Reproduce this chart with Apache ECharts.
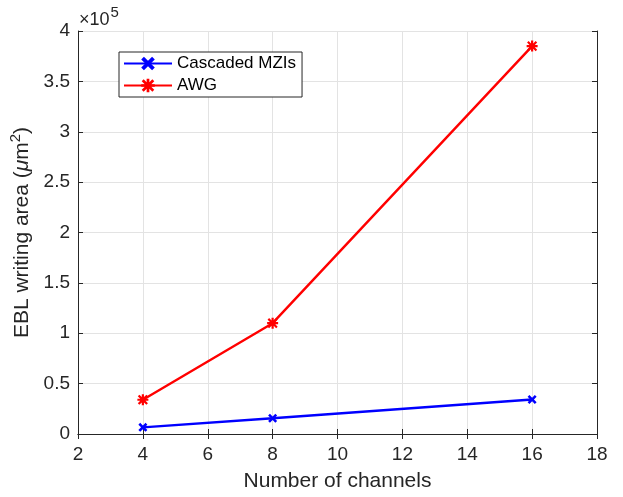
<!DOCTYPE html>
<html>
<head>
<meta charset="utf-8">
<script src="https://cdn.jsdelivr.net/npm/echarts@6/dist/echarts.min.js"></script>
<style>
  html, body { margin: 0; padding: 0; background: #fff; }
  #chart { width: 623px; height: 497px; }
</style>
</head>
<body>
<div id="chart"></div>
<script>
// Channel counts and EBL writing area (µm²) for each design
const channels = [4, 8, 16];
const mziArea = [6600, 15600, 34300];
const awgArea = [34000, 110000, 385000];
const xTicks = [2, 4, 6, 8, 10, 12, 14, 16, 18];
const yTicks = [0, 0.5, 1, 1.5, 2, 2.5, 3, 3.5, 4]; // in units of 1e5

const FONT = '"Liberation Sans", Arial, Helvetica, sans-serif';
const AXIS = '#262626';
const GRIDC = '#e3e3e3';

// Marker shapes: a bold "x" and an asterisk
const crossPath = 'path://M2,0 L5,3 L8,0 L10,2 L7,5 L10,8 L8,10 L5,7 L2,10 L0,8 L3,5 L0,2 Z';
const starPath = 'path://M4,0 L6,0 L6,2.6 L8.2,0.4 L9.6,1.8 L7.4,4 L10,4 L10,6 L7.4,6 L9.6,8.2 L8.2,9.6 L6,7.4 L6,10 L4,10 L4,7.4 L1.8,9.6 L0.4,8.2 L2.6,6 L0,6 L0,4 L2.6,4 L0.4,1.8 L1.8,0.4 L4,2.6 Z';

const pairs = (xs, ys) => xs.map((x, i) => [x, ys[i]]);

const chart = echarts.init(document.getElementById('chart'), null, { renderer: 'canvas' });

const baseAxis = {
  axisLine: { show: true, lineStyle: { color: AXIS, width: 1 } },
  axisTick: { show: true, inside: true, length: 5, lineStyle: { color: AXIS } },
  splitLine: { show: false }
};

chart.setOption({
  animation: false,
  backgroundColor: '#fff',
  grid: { left: 78, right: 26, top: 31, bottom: 61, containLabel: false },
  xAxis: [
    Object.assign({}, baseAxis, {
      type: 'value', min: xTicks[0], max: xTicks[xTicks.length - 1], interval: 2,
      position: 'bottom',
      name: 'Number of channels', nameLocation: 'middle', nameGap: 37,
      nameTextStyle: { fontFamily: FONT, fontSize: 21, color: AXIS },
      axisLabel: { fontFamily: FONT, fontSize: 19, color: AXIS, margin: 11 },
      splitLine: { show: true, lineStyle: { color: GRIDC, width: 1 } }
    }),
    Object.assign({}, baseAxis, {
      type: 'value', min: xTicks[0], max: xTicks[xTicks.length - 1], interval: 2,
      position: 'top', axisLabel: { show: false }
    })
  ],
  yAxis: [
    Object.assign({}, baseAxis, {
      type: 'value', min: yTicks[0] * 1e5, max: yTicks[yTicks.length - 1] * 1e5, interval: 50000,
      position: 'left',
      name: '{n|EBL writing area (}{mu|μ}{n|m}{sup|2}{n|)}',
      nameLocation: 'middle', nameGap: 40,
      nameTextStyle: {
        rich: {
          n: { fontFamily: FONT, fontSize: 21, color: AXIS },
          mu: { fontFamily: FONT, fontSize: 21, color: AXIS, fontStyle: 'italic' },
          sup: { fontFamily: FONT, fontSize: 15, color: AXIS, verticalAlign: 'bottom', padding: [0, 0, 12, 0] }
        }
      },
      axisLabel: {
        fontFamily: FONT, fontSize: 19, color: AXIS, margin: 8,
        formatter: v => String(Math.round(v / 1e4) / 10)
      },
      splitLine: { show: true, lineStyle: { color: GRIDC, width: 1 } }
    }),
    Object.assign({}, baseAxis, {
      type: 'value', min: yTicks[0] * 1e5, max: yTicks[yTicks.length - 1] * 1e5, interval: 50000,
      position: 'right', axisLabel: { show: false }
    })
  ],
  legend: {
    orient: 'vertical',
    left: 119, top: 52,
    padding: [3, 6, 3, 4],
    itemGap: 5,
    itemWidth: 48, itemHeight: 17,
    backgroundColor: '#fff',
    borderColor: AXIS, borderWidth: 1, borderRadius: 0,
    textStyle: { fontFamily: FONT, fontSize: 17, color: '#000', padding: [0, 0, 0, 0] },
    data: ['Cascaded MZIs', 'AWG']
  },
  graphic: [{
    type: 'text', left: 79, top: 5,
    style: {
      text: '{a|×10}{b|5}',
      rich: {
        a: { fontFamily: FONT, fontSize: 18, fill: AXIS, verticalAlign: 'bottom' },
        b: { fontFamily: FONT, fontSize: 15, fill: AXIS, verticalAlign: 'top', padding: [0, 0, 9, 1] }
      }
    }
  }],
  series: [
    {
      name: 'Cascaded MZIs', type: 'line',
      data: pairs(channels, mziArea),
      symbol: crossPath, symbolSize: 9,
      lineStyle: { color: '#0000ff', width: 2.4 },
      itemStyle: { color: '#0000ff' }
    },
    {
      name: 'AWG', type: 'line',
      data: pairs(channels, awgArea),
      symbol: starPath, symbolSize: 11,
      lineStyle: { color: '#ff0000', width: 2.4 },
      itemStyle: { color: '#ff0000' }
    }
  ]
});
</script>
</body>
</html>
